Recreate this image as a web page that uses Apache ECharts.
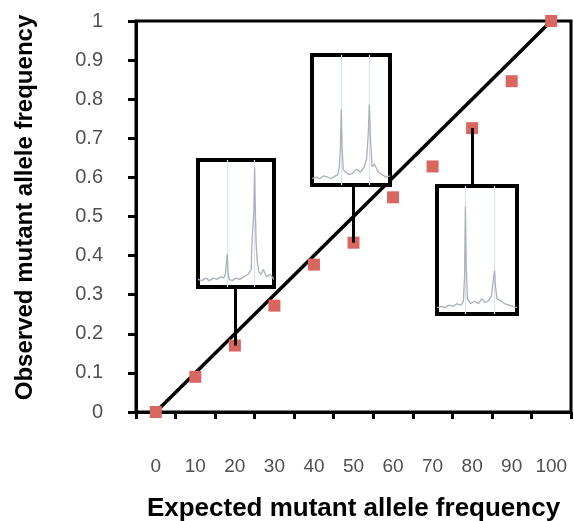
<!DOCTYPE html>
<html>
<head>
<meta charset="utf-8">
<script src="https://cdn.jsdelivr.net/npm/echarts@6/dist/echarts.min.js"></script>
<style>html,body{margin:0;padding:0;background:#fff;}#c{width:574px;height:521px;}</style>
</head>
<body>
<div id="c"></div>
<script>
// ---- data ----
const categories = ['0','10','20','30','40','50','60','70','80','90','100'];
const observed = [0, 0.09, 0.17, 0.272, 0.377, 0.433, 0.549, 0.628, 0.726, 0.846, 1.0];
const refX = ['0', '100'];
const refY = [0, 1];

// inset chromatogram traces ([relative position, relative signal])
const trace1 = [[0,0.06],[0.05,0.05],[0.1,0.07],[0.15,0.05],[0.2,0.07],[0.25,0.06],[0.3,0.08],[0.34,0.07],[0.36,0.1],[0.375,0.2],[0.385,0.26],[0.395,0.12],[0.41,0.06],[0.45,0.05],[0.5,0.07],[0.55,0.06],[0.6,0.08],[0.66,0.1],[0.7,0.14],[0.71,0.35],[0.72,0.34],[0.735,0.6],[0.745,0.94],[0.755,0.6],[0.765,0.34],[0.78,0.2],[0.8,0.12],[0.83,0.1],[0.86,0.14],[0.9,0.08],[0.95,0.1],[1,0.06]];
const trace2 = [[0,0.05],[0.05,0.06],[0.1,0.05],[0.15,0.07],[0.2,0.06],[0.25,0.05],[0.3,0.07],[0.33,0.08],[0.35,0.14],[0.365,0.3],[0.375,0.58],[0.385,0.3],[0.4,0.12],[0.43,0.1],[0.47,0.08],[0.52,0.09],[0.57,0.12],[0.62,0.1],[0.67,0.14],[0.7,0.2],[0.72,0.38],[0.735,0.62],[0.75,0.35],[0.77,0.14],[0.8,0.16],[0.85,0.1],[0.9,0.08],[0.95,0.06],[1,0.07]];
const trace3 = [[0,0.05],[0.05,0.06],[0.1,0.05],[0.15,0.07],[0.2,0.06],[0.25,0.08],[0.3,0.07],[0.33,0.1],[0.345,0.3],[0.355,0.84],[0.365,0.4],[0.38,0.12],[0.42,0.08],[0.47,0.1],[0.52,0.08],[0.56,0.12],[0.6,0.09],[0.64,0.1],[0.68,0.14],[0.71,0.3],[0.72,0.34],[0.73,0.22],[0.75,0.12],[0.8,0.1],[0.85,0.08],[0.9,0.07],[0.95,0.06],[1,0.05]];
const peaks1 = [0.385, 0.745];
const peaks2 = [0.375, 0.735];
const peaks3 = [0.355, 0.72];

const connectorCat = ['20', '50', '80'];
const connectorFrom = [0.32, 0.582, 0.579];
const connectorTo = [0.17, 0.433, 0.726];

// ---- chart ----
const chart = echarts.init(document.getElementById('c'), null, {renderer: 'canvas'});
const labelFont = 'Liberation Sans';
const insetBoxes = [
  {left: 198, top: 160, width: 76, height: 127},
  {left: 312, top: 55, width: 78, height: 130},
  {left: 437, top: 186, width: 80, height: 128}
];
const traces = [trace1, trace2, trace3];
const peaks = [peaks1, peaks2, peaks3];

const grids = [{left: 136, top: 21, right: 3, bottom: 109, outerBoundsMode: 'none', containLabel: false,
  show: true, borderColor: '#000', borderWidth: 3, backgroundColor: 'transparent'}];
const xAxes = [{
  type: 'category', data: categories, gridIndex: 0, boundaryGap: true,
  axisLine: {lineStyle: {color: '#000', width: 3}},
  axisTick: {show: true, inside: false, interval: 0, length: 7, lineStyle: {color: '#000', width: 3}},
  axisLabel: {interval: 0, margin: 45, color: '#505050', fontSize: 19, fontFamily: labelFont},
  name: 'Expected mutant allele frequency', nameLocation: 'middle', nameGap: 84,
  nameTextStyle: {color: '#000', fontSize: 26, fontWeight: 'bold', fontFamily: labelFont}
}];
const yAxes = [{
  type: 'value', min: 0, max: 1, interval: 0.1, gridIndex: 0,
  splitLine: {show: false},
  axisLine: {show: true, lineStyle: {color: '#000', width: 3}},
  axisTick: {show: true, length: 8, lineStyle: {color: '#000', width: 3}},
  axisLabel: {margin: 33, color: '#505050', fontSize: 20, fontFamily: labelFont,
    formatter: v => String(Math.round(v * 10) / 10)},
  name: 'Observed mutant allele frequency', nameLocation: 'middle', nameGap: 99, nameRotate: 90,
  nameTextStyle: {color: '#000', fontSize: 24, fontWeight: 'bold', fontFamily: labelFont, padding: [0, 0, 0, 18]}
}];
const series = [
  {
    type: 'line', xAxisIndex: 0, yAxisIndex: 0, z: 2,
    data: refX.map((c, i) => [c, refY[i]]),
    symbol: 'none', lineStyle: {color: '#000', width: 3.5}, silent: true,
    markLine: {
      silent: true, symbol: ['none', 'none'], label: {show: false},
      lineStyle: {color: '#000', width: 3, type: 'solid'},
      data: connectorCat.map((c, i) => [{coord: [c, connectorFrom[i]]}, {coord: [c, connectorTo[i]]}])
    }
  },
  {
    type: 'scatter', xAxisIndex: 0, yAxisIndex: 0, z: 4,
    data: categories.map((c, i) => [c, observed[i]]),
    symbol: 'rect', symbolSize: 12, itemStyle: {color: '#D9665F', opacity: 1}
  }
];
insetBoxes.forEach((b, k) => {
  const gi = k + 1;
  grids.push(Object.assign({show: true, borderColor: '#000', borderWidth: 4, backgroundColor: '#fff', z: 6,
    outerBoundsMode: 'none', containLabel: false}, b));
  xAxes.push({type: 'value', gridIndex: gi, min: 0, max: 1, show: false});
  yAxes.push({type: 'value', gridIndex: gi, min: 0, max: 1, show: false});
  series.push({
    type: 'line', xAxisIndex: gi, yAxisIndex: gi, z: 7,
    data: traces[k], symbol: 'none', silent: true,
    lineStyle: {color: '#aab1b8', width: 1.3},
    markLine: {
      silent: true, symbol: ['none', 'none'], label: {show: false}, z: 6,
      lineStyle: {color: '#d2e5f4', width: 1.2, type: 'solid', opacity: 1},
      data: peaks[k].map(p => [{coord: [p, 0]}, {coord: [p, 1]}])
    }
  });
});

chart.setOption({
  animation: false,
  backgroundColor: '#fff',
  grid: grids, xAxis: xAxes, yAxis: yAxes, series: series
});
</script>
</body>
</html>
